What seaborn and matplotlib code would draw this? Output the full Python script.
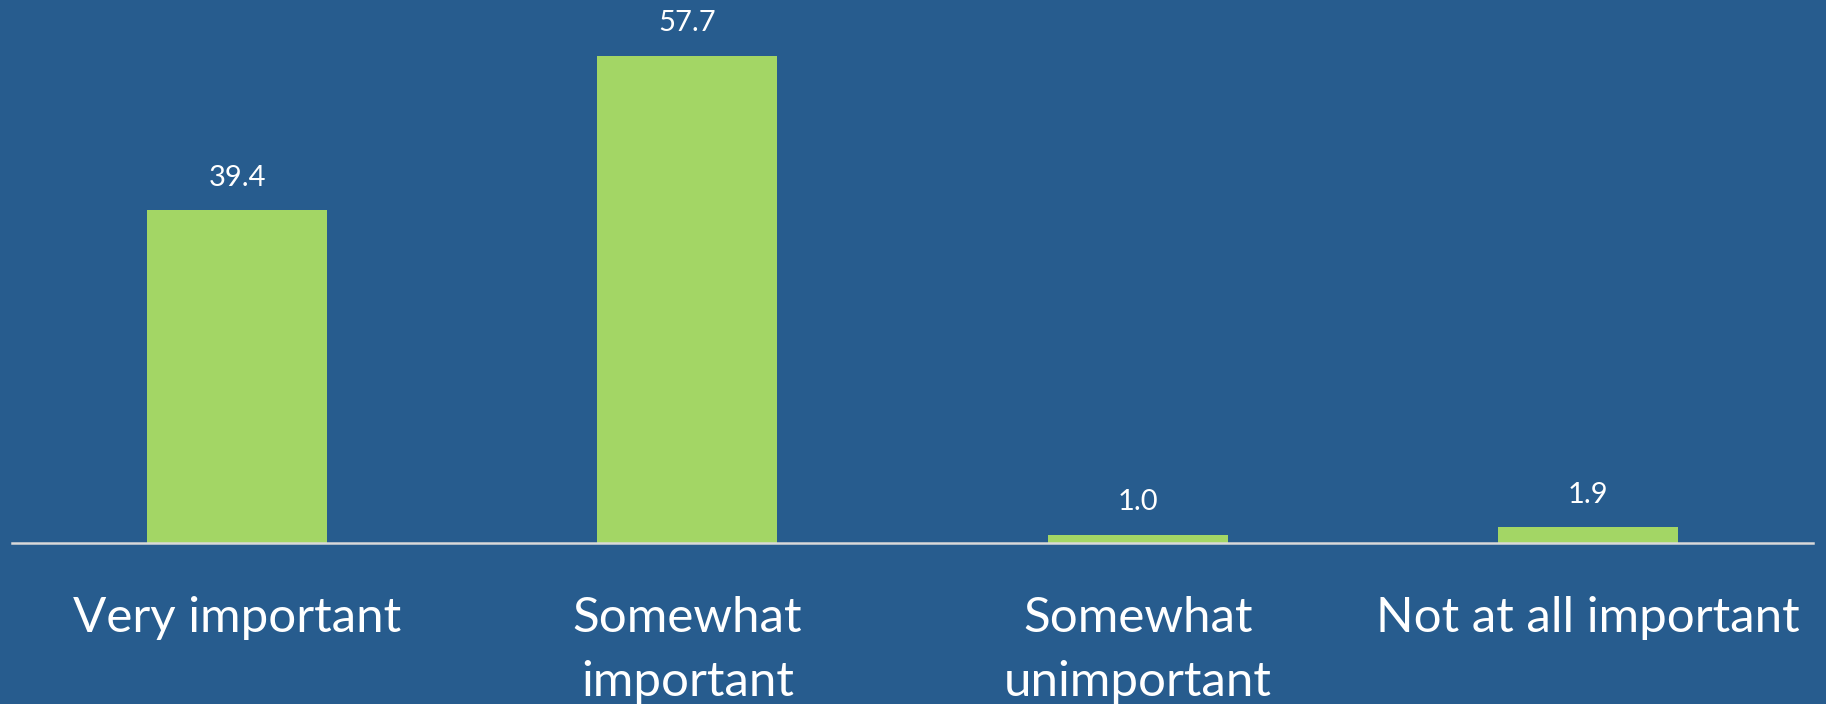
import matplotlib
matplotlib.use("Agg")
import matplotlib.pyplot as plt
import seaborn as sns
import pandas as pd

# Chart data
categories = ["Very important", "Somewhat\nimportant", "Somewhat\nunimportant", "Not at all important"]
values = [39.4, 57.7, 1.0, 1.9]

BG = "#275C8E"
BAR = "#A3D665"

sns.set_style("white", {"axes.facecolor": BG, "figure.facecolor": BG})
plt.rcParams['font.family'] = ['Lato', 'DejaVu Sans']

df = pd.DataFrame({"category": categories, "value": values})

fig = plt.figure(figsize=(18.26, 7.04), dpi=100)
ax = fig.add_axes([12 / 1826, 1 - 543 / 704, (1813 - 12) / 1826, 543 / 704])

sns.barplot(data=df, x="category", y="value", color=BAR, width=0.4,
            saturation=1, linewidth=0, edgecolor="none", ax=ax)

ax.set_xlim(-0.5, 3.5)
ax.set_ylim(0, 64.3)

for i, v in enumerate(values):
    ax.annotate(f"{v:.1f}", (i, v), xytext=(0, 14), textcoords="offset points",
                ha="center", va="bottom", color="white", fontsize=21)

for side in ["top", "right", "left"]:
    ax.spines[side].set_visible(False)
ax.spines["bottom"].set_color("#D9D9D9")
ax.spines["bottom"].set_linewidth(1.8)

ax.set_yticks([])
ax.tick_params(axis="x", length=0, pad=38, labelsize=35.5, labelcolor="white")
for lbl in ax.get_xticklabels():
    lbl.set_linespacing(1.55)
ax.set_xlabel("")
ax.set_ylabel("")

fig.savefig("out.png", dpi=100, facecolor=BG)
